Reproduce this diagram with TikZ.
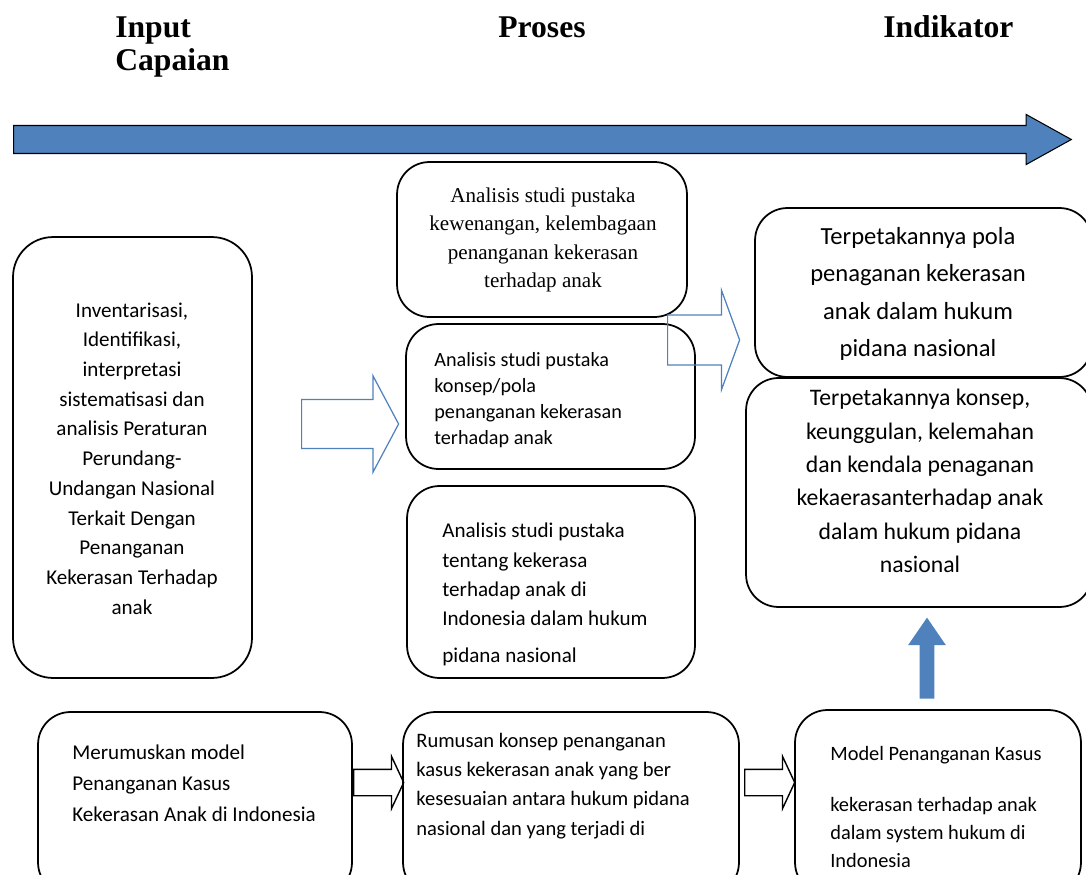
\documentclass[tikz,border=0pt]{standalone}
\usepackage{fontspec}
\setmainfont{Carlito}
\newfontfamily\timesfont{Liberation Serif}
\usetikzlibrary{shapes.arrows}
\definecolor{biru}{HTML}{4F81BD}
\tikzset{
  kotak/.style={draw, line width=1pt, rounded corners=0.65cm, inner sep=0pt},
  teks/.style={inner sep=0pt, align=center},
  judul/.style={inner sep=0pt, font=\timesfont\bfseries\fontsize{18pt}{19.3pt}\selectfont},
  panah/.style={single arrow, inner xsep=0pt, anchor=tail},
  panahbiru/.style={panah, draw=biru, line width=0.7pt},
  panahhitam/.style={panah, draw=black, line width=0.8pt}
}
\begin{document}
\begin{tikzpicture}[x=0.02cm, y=-0.02cm]
            \useasboundingbox (0,0) rectangle (1086,875);
            \clip (0,0) rectangle (1086,875);
            % judul kolom
            \node[judul, anchor=north west, align=left] (input) at (115,16) {Input\\Capaian};
            \node[judul, anchor=base west] (proses) at (498,38) {Proses};
            \node[judul, anchor=base west] (indikator) at (883,38) {Indikator};
            \node[panah, fill=biru, draw=black, line width=0.6pt, inner ysep=0.27cm, minimum height=21.16cm,
                  single arrow head extend=0.22cm, single arrow tip angle=58] (alur) at (13,139.5) {};
            % kotak
            \node[kotak, rounded corners=0.8cm, minimum width=4.78cm, minimum height=8.82cm] (inv) at (132.5,457.5) {};
            \node[kotak, minimum width=5.8cm, minimum height=3.1cm] (studi1) at (542,239.5) {};
            \node[kotak, minimum width=5.78cm, minimum height=2.9cm] (studi2) at (550.5,396.5) {};
            \node[kotak, minimum width=5.76cm, minimum height=3.84cm] (studi3) at (551,582) {};
            \node[kotak, minimum width=6.74cm, minimum height=3.38cm] (hasil1) at (923.5,292.5) {};
            \node[kotak, minimum width=6.92cm, minimum height=4.58cm] (hasil2) at (919,492.5) {};
            \node[kotak, minimum width=6.28cm, minimum height=3.66cm] (rumus) at (195,803.5) {};
            \node[kotak, minimum width=6.72cm, minimum height=3.66cm] (rumusan) at (571,803.5) {};
            \node[kotak, minimum width=5.72cm, minimum height=3.7cm] (model) at (938,802.5) {};
            % teks
            \node[teks, font=\fontsize{12pt}{16.9pt}\selectfont] (invteks) at (132,458.5)
                {Inventarisasi,\\Identifikasi,\\interpretasi\\sistematisasi dan\\analisis Peraturan\\Perundang-\\Undangan Nasional\\Terkait Dengan\\Penanganan\\Kekerasan Terhadap\\anak};
            \node[teks, font=\timesfont\fontsize{12pt}{16.1pt}\selectfont] (studi1teks) at (543,240)
                {Analisis studi pustaka\\kewenangan, kelembagaan\\penanganan kekerasan\\terhadap anak};
            \node[teks, align=left, anchor=west, font=\fontsize{11.5pt}{14.7pt}\selectfont] (studi2teks) at (434,400)
                {Analisis studi pustaka\\konsep/pola\\penanganan kekerasan\\terhadap anak};
            \node[teks, align=left, anchor=west, font=\fontsize{12pt}{16.7pt}\selectfont] (studi3teks) at (442,594.5)
                {Analisis studi pustaka\\tentang kekerasa\\terhadap anak di\\Indonesia dalam hukum\\[4pt]pidana nasional};
            \node[teks, font=\fontsize{14pt}{21.2pt}\selectfont] (hasil1teks) at (918,294)
                {Terpetakannya pola\\penaganan kekerasan\\anak dalam hukum\\pidana nasional};
            \node[teks, font=\fontsize{13.5pt}{19pt}\selectfont] (hasil2teks) at (920,481)
                {Terpetakannya konsep,\\keunggulan, kelemahan\\dan kendala penaganan\\kekaerasanterhadap anak\\dalam hukum pidana\\nasional};
            \node[teks, align=left, anchor=west, font=\fontsize{12pt}{17.6pt}\selectfont] (rumusteks) at (72,783.5)
                {Merumuskan model\\Penanganan Kasus\\Kekerasan Anak di Indonesia};
            \node[teks, align=left, anchor=west, font=\fontsize{11.7pt}{16.6pt}\selectfont] (rumusanteks) at (416,786)
                {Rumusan konsep penanganan\\kasus kekerasan anak yang ber\\kesesuaian antara hukum pidana\\nasional dan yang terjadi di};
            \node[teks, align=left, anchor=west, font=\fontsize{11.6pt}{16pt}\selectfont] (modelteks) at (830,807)
                {Model Penanganan Kasus\\[13pt]kekerasan terhadap anak\\dalam system hukum di\\Indonesia};
            % panah antar kotak
            \node[panahbiru, inner ysep=0.48cm, minimum height=1.94cm, single arrow head extend=0.47cm,
                  single arrow tip angle=124] (panahkiri) at (301,424) {};
            \node[panahbiru, inner ysep=0.49cm, minimum height=1.44cm, single arrow head extend=0.49cm,
                  single arrow tip angle=140] (panahkanan) at (667,340) {};
            \node[panahhitam, inner ysep=0.25cm, minimum height=1cm, single arrow head extend=0.26cm,
                  single arrow tip angle=130] (panahbawah1) at (353,782.5) {};
            \node[panahhitam, inner ysep=0.25cm, minimum height=1cm, single arrow head extend=0.26cm,
                  single arrow tip angle=130] (panahbawah2) at (744,782.5) {};
            \node[panah, fill=biru, shape border rotate=90, inner sep=0.14cm, minimum height=1.62cm,
                  single arrow head extend=0.23cm, single arrow tip angle=69] (panahatas) at (927,699) {};
        \end{tikzpicture}
\end{document}
